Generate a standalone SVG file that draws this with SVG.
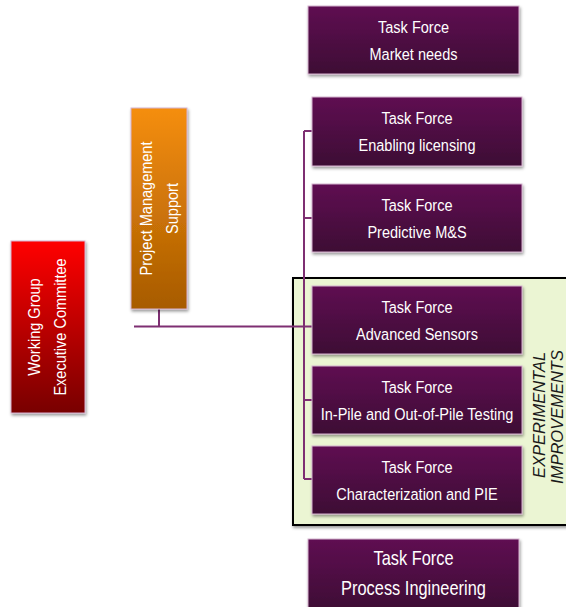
<svg xmlns="http://www.w3.org/2000/svg" width="566" height="607" viewBox="0 0 566 607">
<defs>
<linearGradient id="gPurple" x1="0" y1="0" x2="0" y2="1"><stop offset="0" stop-color="#5F1052"/><stop offset="1" stop-color="#3D0A34"/></linearGradient>
<linearGradient id="gRed" x1="0" y1="0" x2="0" y2="1"><stop offset="0" stop-color="#FF0000"/><stop offset="1" stop-color="#780000"/></linearGradient>
<linearGradient id="gOrange" x1="0" y1="0" x2="0" y2="1"><stop offset="0" stop-color="#F58E10"/><stop offset="1" stop-color="#A75B00"/></linearGradient>
<filter id="sh" x="-10%" y="-10%" width="130%" height="130%"><feDropShadow dx="1" dy="2" stdDeviation="1.5" flood-color="#000" flood-opacity="0.4"/></filter>
</defs>
<style>
.box{stroke:#d6b3cf;stroke-width:1;filter:url(#sh)}
.tp{fill:url(#gPurple)}
.t{font-family:"Liberation Sans",Arial,sans-serif;font-size:17px;fill:#fff;text-anchor:middle}
.tb{font-family:"Liberation Sans",Arial,sans-serif;font-size:20px;fill:#fff;text-anchor:middle}
.c{stroke:#7E2F72;stroke-width:2;fill:none}
.exp{font-family:"Liberation Sans",Arial,sans-serif;font-size:16.5px;font-style:italic;fill:#1a1a1a;text-anchor:middle}
</style>
<rect x="293" y="278" width="280" height="247" fill="#EBF5D3" stroke="#000" stroke-width="2" filter="url(#sh)"/>
<g id="experimental-label">
<text class="exp" transform="translate(545,415) rotate(-90)">EXPERIMENTAL</text>
<text class="exp" transform="translate(563,417) rotate(-90)">IMPROVEMENTS</text>
</g>
<g id="connectors">
<path class="c" d="M159 309V326.5M134 326.5H304M304 131V479M304 131H312M304 218H312M304 326.5H312M304 400H312M304 479H312"/>
</g>
<g id="working-group">
<rect class="box" x="11" y="241" width="74" height="172" fill="url(#gRed)" stroke="#f3a0a0"/>
<text class="t" transform="translate(40,327) rotate(-90) scale(0.855 1)">Working Group</text>
<text class="t" transform="translate(66,327) rotate(-90) scale(0.855 1)">Executive Committee</text>
</g>
<g id="pms">
<rect class="box" x="131" y="108" width="56" height="201" fill="url(#gOrange)" stroke="#f6c890"/>
<text class="t" transform="translate(152,208.5) rotate(-90) scale(0.855 1)">Project Management</text>
<text class="t" transform="translate(178,208.5) rotate(-90) scale(0.855 1)">Support</text>
</g>
<g id="tf-market">
<rect class="box tp" x="308" y="6" width="211" height="68"/>
<text class="t" transform="translate(413.5,0) scale(0.855 1)" y="33">Task Force</text>
<text class="t" transform="translate(413.5,0) scale(0.855 1)" y="60">Market needs</text>
</g>
<g id="tf-licensing">
<rect class="box tp" x="312" y="97" width="210" height="69"/>
<text class="t" transform="translate(417,0) scale(0.855 1)" y="124">Task Force</text>
<text class="t" transform="translate(417,0) scale(0.855 1)" y="151">Enabling licensing</text>
</g>
<g id="tf-predictive">
<rect class="box tp" x="312" y="184" width="210" height="68"/>
<text class="t" transform="translate(417,0) scale(0.855 1)" y="211">Task Force</text>
<text class="t" transform="translate(417,0) scale(0.855 1)" y="238">Predictive M&amp;S</text>
</g>
<g id="tf-sensors">
<rect class="box tp" x="312" y="286" width="210" height="68"/>
<text class="t" transform="translate(417,0) scale(0.855 1)" y="313">Task Force</text>
<text class="t" transform="translate(417,0) scale(0.855 1)" y="340">Advanced Sensors</text>
</g>
<g id="tf-testing">
<rect class="box tp" x="312" y="366" width="210" height="68"/>
<text class="t" transform="translate(417,0) scale(0.855 1)" y="393">Task Force</text>
<text class="t" transform="translate(417,0) scale(0.855 1)" y="420">In-Pile and Out-of-Pile Testing</text>
</g>
<g id="tf-pie">
<rect class="box tp" x="312" y="446" width="210" height="68"/>
<text class="t" transform="translate(417,0) scale(0.855 1)" y="473">Task Force</text>
<text class="t" transform="translate(417,0) scale(0.855 1)" y="500">Characterization and PIE</text>
</g>
<g id="tf-process">
<rect class="box tp" x="308" y="539" width="211" height="72"/>
<text class="tb" transform="translate(413.5,0) scale(0.82 1)" y="565">Task Force</text>
<text class="tb" transform="translate(413.5,0) scale(0.82 1)" y="595">Process Ingineering</text>
</g>
</svg>
